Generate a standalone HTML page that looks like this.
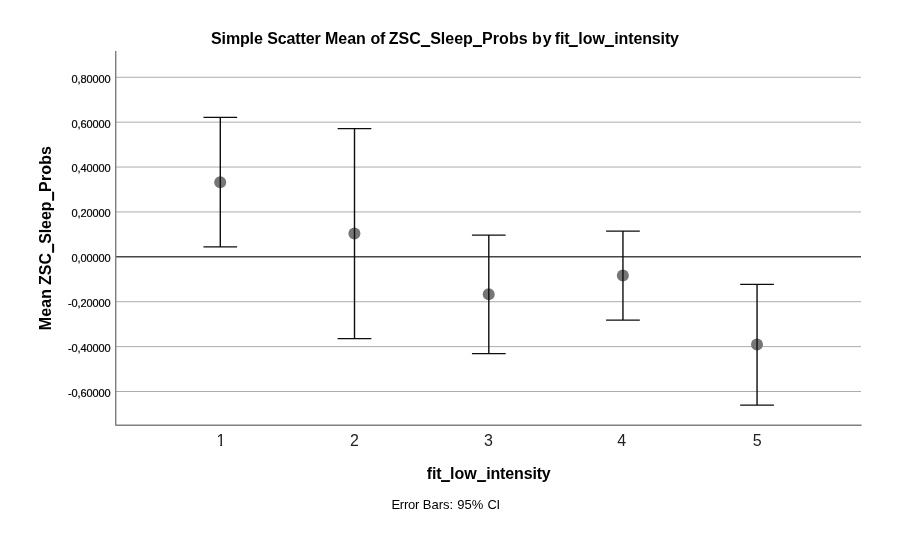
<!DOCTYPE html>
<html lang="en"><head><meta charset="utf-8"><title>Simple Scatter Mean of ZSC_Sleep_Probs by fit_low_intensity</title>
<style>
html,body{margin:0;padding:0;background:#fff;}
body{width:920px;height:545px;overflow:hidden;font-family:"Liberation Sans",sans-serif;}
svg{display:block;}
text{font-family:"Liberation Sans",sans-serif;fill:#000;}
.b{font-weight:bold;font-size:16px;}
.yl{font-size:11px;text-anchor:end;letter-spacing:-0.12px;stroke:#000;stroke-width:0.2px;}
.xl{font-size:16px;text-anchor:middle;fill:#222;}
.fn{font-size:13px;}
</style></head><body>
<svg width="920" height="545" viewBox="0 0 920 545">
<defs><clipPath id="nofoot" clipPathUnits="userSpaceOnUse"><path d="M212 428H232V444H222.1V448H220.2V444H212Z"/></clipPath></defs>
<rect x="0" y="0" width="920" height="545" fill="#ffffff"/>
<line x1="116" y1="77.28" x2="861" y2="77.28" stroke="#acacac" stroke-width="1"/>
<line x1="116" y1="122.17" x2="861" y2="122.17" stroke="#acacac" stroke-width="1"/>
<line x1="116" y1="167.06" x2="861" y2="167.06" stroke="#acacac" stroke-width="1"/>
<line x1="116" y1="211.95" x2="861" y2="211.95" stroke="#acacac" stroke-width="1"/>
<line x1="116" y1="301.73" x2="861" y2="301.73" stroke="#acacac" stroke-width="1"/>
<line x1="116" y1="346.62" x2="861" y2="346.62" stroke="#acacac" stroke-width="1"/>
<line x1="116" y1="391.5" x2="861" y2="391.5" stroke="#acacac" stroke-width="1"/>
<line x1="116" y1="256.78" x2="861.0" y2="256.78" stroke="#464646" stroke-width="1.65"/>
<path d="M115.72 51V425.3H861.6" stroke="#808080" stroke-width="1.43" fill="none" stroke-linejoin="bevel"/>
<circle cx="220.2" cy="182.3" r="6" fill="#767676"/>
<path d="M220.3 117.45V246.95" stroke="#0d0d0d" stroke-width="1.4" fill="none"/>
<path d="M203.45 117.45H237.15M203.45 246.95H237.15" stroke="#0d0d0d" stroke-width="1.25" fill="none"/>
<circle cx="354.4" cy="233.4" r="6" fill="#767676"/>
<path d="M354.5 128.5V338.5" stroke="#0d0d0d" stroke-width="1.4" fill="none"/>
<path d="M337.65 128.5H371.35M337.65 338.5H371.35" stroke="#0d0d0d" stroke-width="1.25" fill="none"/>
<circle cx="488.7" cy="294.25" r="6" fill="#767676"/>
<path d="M488.8 235.0V353.5" stroke="#0d0d0d" stroke-width="1.4" fill="none"/>
<path d="M471.95 235.0H505.65M471.95 353.5H505.65" stroke="#0d0d0d" stroke-width="1.25" fill="none"/>
<circle cx="622.85" cy="275.5" r="6" fill="#767676"/>
<path d="M622.95 231.0V320.0" stroke="#0d0d0d" stroke-width="1.4" fill="none"/>
<path d="M606.10 231.0H639.80M606.10 320.0H639.80" stroke="#0d0d0d" stroke-width="1.25" fill="none"/>
<circle cx="757.0" cy="344.5" r="6" fill="#767676"/>
<path d="M757.05 284.4V405.0" stroke="#0d0d0d" stroke-width="1.4" fill="none"/>
<path d="M740.20 284.4H773.90M740.20 405.0H773.90" stroke="#0d0d0d" stroke-width="1.25" fill="none"/>
<text class="yl" x="110.45" y="83">0,80000</text>
<text class="yl" x="110.45" y="128">0,60000</text>
<text class="yl" x="110.45" y="172">0,40000</text>
<text class="yl" x="110.45" y="217">0,20000</text>
<text class="yl" x="110.45" y="262">0,00000</text>
<text class="yl" x="110.45" y="307">-0,20000</text>
<text class="yl" x="110.45" y="352">-0,40000</text>
<text class="yl" x="110.45" y="397">-0,60000</text>
<text class="xl" clip-path="url(#nofoot)" x="221.00" y="445.8">1</text>
<text class="xl" x="354.40" y="445.8">2</text>
<text class="xl" x="488.40" y="445.8">3</text>
<text class="xl" x="621.75" y="445.8">4</text>
<text class="xl" x="757.25" y="445.8">5</text>
<text class="b" y="43.8"><tspan x="211.05" letter-spacing="-0.141">Simple</tspan> <tspan x="267.15" letter-spacing="-0.120">Scatter</tspan> <tspan x="325.01" letter-spacing="-0.029">Mean</tspan> <tspan x="370.43" letter-spacing="-0.139">of</tspan> <tspan x="388.81">ZSC</tspan><tspan x="421.06">_</tspan><tspan x="430.15">Sleep</tspan><tspan x="473.06">_</tspan><tspan x="482.01" letter-spacing="0.087">Probs</tspan> <tspan x="531.88" letter-spacing="1.000">by</tspan> <tspan x="554.80" letter-spacing="-0.120">fit</tspan><tspan x="568.91">_</tspan><tspan x="578.20">low</tspan><tspan x="604.96">_</tspan><tspan x="614.25" letter-spacing="-0.133">intensity</tspan></text><rect x="420.90" y="45.30" width="9.30" height="1.7" fill="#000"/><rect x="472.90" y="45.30" width="9.10" height="1.7" fill="#000"/><rect x="568.75" y="45.30" width="8.95" height="1.7" fill="#000"/><rect x="604.80" y="45.30" width="9.10" height="1.7" fill="#000"/>
<text class="b" y="478.8"><tspan x="426.70" letter-spacing="-0.120">fit</tspan><tspan x="441.16">_</tspan><tspan x="450.05">low</tspan><tspan x="477.26">_</tspan><tspan x="486.15" letter-spacing="-0.146">intensity</tspan></text><rect x="441.00" y="480.30" width="8.80" height="1.7" fill="#000"/><rect x="477.10" y="480.30" width="8.70" height="1.7" fill="#000"/>
<g transform="translate(50.9,0) rotate(-90)"><text class="b" y="0"><tspan x="-330.19" letter-spacing="0.104">Mean</tspan> <tspan x="-284.89" letter-spacing="-0.057">ZSC</tspan><tspan x="-252.54">_</tspan><tspan x="-243.85" letter-spacing="-0.075">Sleep</tspan><tspan x="-200.54">_</tspan><tspan x="-191.89" letter-spacing="0.112">Probs</tspan></text><rect x="-252.70" y="1.50" width="8.90" height="1.7" fill="#000"/><rect x="-200.70" y="1.50" width="8.90" height="1.7" fill="#000"/></g>
<text class="fn" y="509"><tspan x="391.4" letter-spacing="-0.25">Error</tspan> <tspan x="422.85">Bars:</tspan> <tspan x="457.2">95%</tspan> <tspan x="487.6" letter-spacing="-0.5">CI</tspan></text>
</svg>
</body></html>
